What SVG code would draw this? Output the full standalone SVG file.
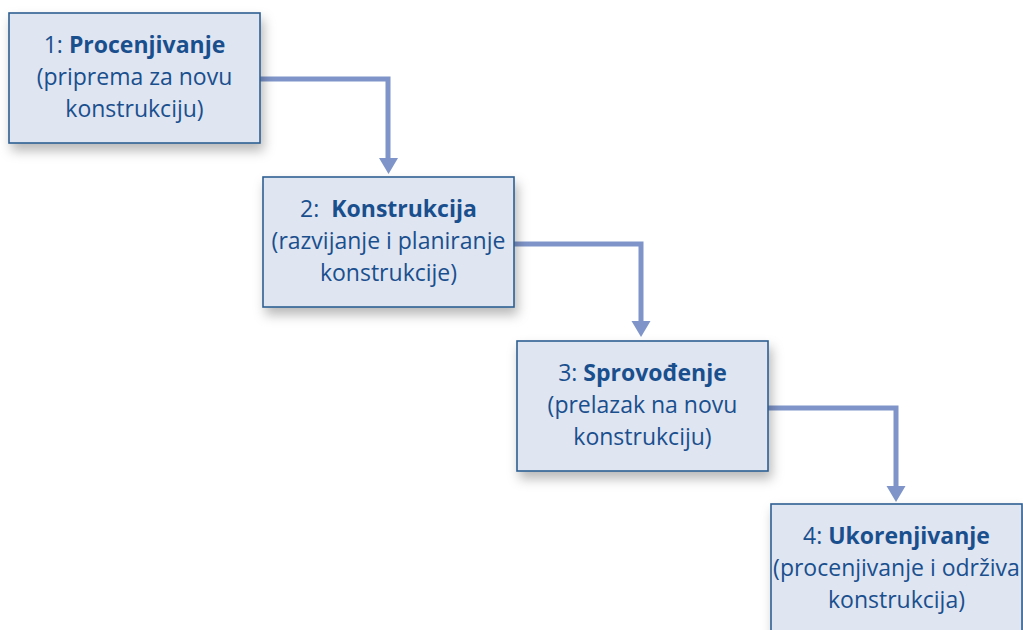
<svg xmlns="http://www.w3.org/2000/svg" width="1023" height="630" viewBox="0 0 1023 630">
  <defs>
    <filter id="shadow" x="-10%" y="-10%" width="130%" height="140%">
      <feDropShadow dx="3" dy="7" stdDeviation="6" flood-color="#000" flood-opacity="0.28"/>
    </filter>
  </defs>
  <style>
    .box { fill: #dfe5f1; stroke: #2e5f92; stroke-width: 1.6; filter: url(#shadow); }
    .label { font-family: "Open Sans", "Noto Sans", sans-serif; font-size: 23px; fill: #1a4f8e; text-anchor: middle; }
    .b { font-weight: bold; }
    .conn { fill: none; stroke: #7f95c9; stroke-width: 5; }
    .head { fill: #7f95c9; }
  </style>
  <rect width="1023" height="630" fill="#fff"/>

  <g id="connectors">
    <path class="conn" d="M260,79 H388 V158"/>
    <path class="head" d="M379,158 H398 L388.5,174 Z"/>
    <path class="conn" d="M514,244 H641 V321"/>
    <path class="head" d="M631.5,321 H650.5 L641,337 Z"/>
    <path class="conn" d="M768,408 H896 V486"/>
    <path class="head" d="M886.5,486 H905.5 L896,502 Z"/>
  </g>

  <g id="node1">
    <rect class="box" x="9" y="13" width="251" height="130"/>
    <text class="label" x="134.5" y="53"><tspan>1: </tspan><tspan class="b">Procenjivanje</tspan></text>
    <text class="label" x="134.5" y="85">(priprema za novu</text>
    <text class="label" x="134.5" y="117">konstrukciju)</text>
  </g>

  <g id="node2">
    <rect class="box" x="263" y="177" width="251" height="130"/>
    <text class="label" x="388.5" y="217" xml:space="preserve"><tspan>2:  </tspan><tspan class="b">Konstrukcija</tspan></text>
    <text class="label" x="388.5" y="249">(razvijanje i planiranje</text>
    <text class="label" x="388.5" y="281">konstrukcije)</text>
  </g>

  <g id="node3">
    <rect class="box" x="517" y="341" width="251" height="130"/>
    <text class="label" x="642.5" y="381"><tspan>3: </tspan><tspan class="b">Sprovođenje</tspan></text>
    <text class="label" x="642.5" y="413">(prelazak na novu</text>
    <text class="label" x="642.5" y="445">konstrukciju)</text>
  </g>

  <g id="node4">
    <rect class="box" x="771" y="504" width="251" height="140"/>
    <text class="label" x="896.5" y="544"><tspan>4: </tspan><tspan class="b">Ukorenjivanje</tspan></text>
    <text class="label" x="896.5" y="576">(procenjivanje i održiva</text>
    <text class="label" x="896.5" y="608">konstrukcija)</text>
  </g>
</svg>
